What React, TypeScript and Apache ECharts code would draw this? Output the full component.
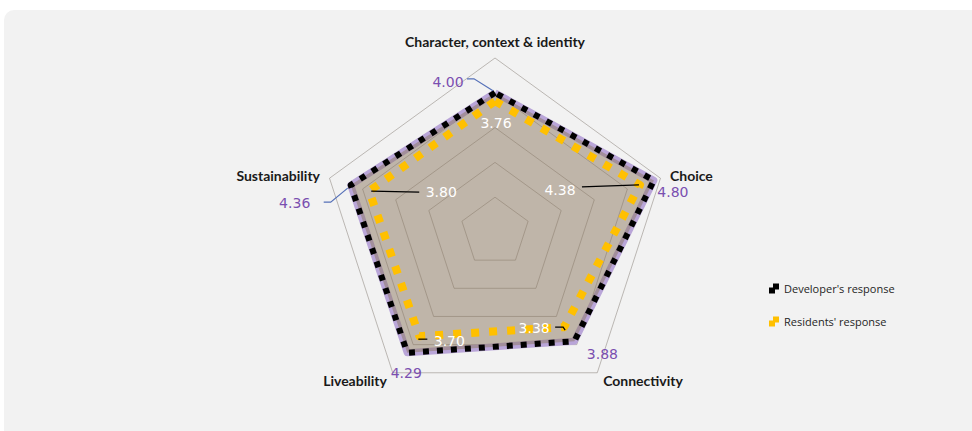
import React, { useEffect, useRef } from "react";
import * as echarts from "echarts";

// Axes, listed counter-clockwise from the top (ECharts radar order)
const indicatorNames = [
  "Character, context & identity",
  "Sustainability",
  "Liveability",
  "Connectivity",
  "Choice",
];
const developerScores = [4.0, 4.36, 4.29, 3.88, 4.8];
const residentScores = [3.76, 3.8, 3.7, 3.38, 4.38];
const seriesNames = ["Developer's response", "Residents' response"];
const scaleMax = 5;

// Radar geometry (pixels)
const CX = 495;
const CY = 232;
const RADIUS = 174;

// Where each value label sits, relative to its vertex, plus leader lines
const devLabelOffsets = [
  [-47, -11],
  [-56, 18],
  [-1, 20],
  [28, 13],
  [19, 12],
];
const devLeaders: (number[][] | null)[] = [
  [[-28, -14], [-21, -14], [-2, -2]],
  [[-27, 17], [-20, 17], [-3, 3]],
  null,
  null,
  null,
];
const resLabelOffsets = [
  [1, 22],
  [72, 1],
  [30, 5],
  [-30, 1],
  [-80, 5],
];
const resLeaders: (number[][] | null)[] = [
  null,
  [[2, 0], [50, 1]],
  [[-1, 3], [8, 3]],
  [[-9, 0], [-1, 0], [1, 3]],
  [[-58, 2], [-1, 0]],
];

function vertex(i: number, v: number): [number, number] {
  const a = ((90 + (i * 360) / indicatorNames.length) * Math.PI) / 180;
  const r = (RADIUS * v) / scaleMax;
  return [CX + r * Math.cos(a), CY - r * Math.sin(a)];
}

function valueLabels(
  values: number[],
  offsets: number[][],
  leaders: (number[][] | null)[],
  color: string,
  leaderColor: string
) {
  const out: any[] = [];
  values.forEach((v, i) => {
    const [x, y] = vertex(i, v);
    const lead = leaders[i];
    if (lead) {
      out.push({
        type: "polyline",
        z: 100,
        shape: { points: lead.map(([dx, dy]) => [x + dx, y + dy]) },
        style: { stroke: leaderColor, lineWidth: 1.2, fill: null },
      });
    }
    out.push({
      type: "text",
      z: 101,
      x: x + offsets[i][0],
      y: y + offsets[i][1],
      style: {
        text: v.toFixed(2),
        fill: color,
        font: "14px 'DejaVu Sans'",
        align: "center",
        verticalAlign: "middle",
      },
    });
  });
  return out;
}

export default function App() {
  const ref = useRef<HTMLDivElement>(null);

  useEffect(() => {
    if (!ref.current) return;
    const chart = echarts.init(ref.current, undefined, { renderer: "svg" });

    const legendIcon = "path://M0,4h6v6h-6z M4,0h6v6h-6z";

    const option: any = {
      animation: false,
      backgroundColor: "#ffffff",
      legend: {
        orient: "vertical",
        left: 764,
        top: 278,
        itemWidth: 10,
        itemHeight: 10,
        itemGap: 22,
        data: [
          { name: seriesNames[0], icon: legendIcon, itemStyle: { color: "#000000" } },
          { name: seriesNames[1], icon: legendIcon, itemStyle: { color: "#ffc000" } },
        ],
        textStyle: {
          fontFamily: "'Open Sans'",
          fontSize: 11,
          color: "#1f1f1f",
        },
      },
      radar: {
        center: [CX, CY],
        radius: RADIUS,
        startAngle: 90,
        splitNumber: 5,
        shape: "polygon",
        nameGap: 10,
        indicator: indicatorNames.map((name) => ({ name, min: 0, max: scaleMax })),
        axisName: {
          color: "#1a1a1a",
          fontFamily: "Lato",
          fontWeight: "bold",
          fontSize: 14,
        },
        axisLine: { show: false },
        splitArea: { show: false },
        splitLine: { lineStyle: { color: "rgba(110,100,90,0.42)", width: 1 } },
      },
      graphic: [
        {
          type: "rect",
          z: -10,
          shape: { x: 4, y: 10, width: 990, height: 440, r: 10 },
          style: { fill: "#f2f2f2" },
        },
        ...valueLabels(developerScores, devLabelOffsets, devLeaders, "#7a4fb0", "#5570b8"),
        ...valueLabels(residentScores, resLabelOffsets, resLeaders, "#ffffff", "#000000"),
      ],
      series: [
        {
          type: "radar",
          name: "developer-area",
          symbol: "none",
          z: 2,
          data: [{ value: developerScores }],
          lineStyle: { color: "#b9a5d8", width: 7 },
          areaStyle: { color: "rgba(140,120,95,0.5)", opacity: 1 },
          silent: true,
        },
        {
          type: "radar",
          name: seriesNames[1],
          symbol: "none",
          z: 3,
          data: [{ value: residentScores, name: seriesNames[1] }],
          itemStyle: { color: "#ffc000" },
          lineStyle: { color: "#ffc000", width: 8, type: [8, 10], cap: "butt" },
        },
        {
          type: "radar",
          name: seriesNames[0],
          symbol: "none",
          z: 4,
          data: [{ value: developerScores, name: seriesNames[0] }],
          itemStyle: { color: "#000000" },
          lineStyle: { color: "#000000", width: 6, type: [6, 8], cap: "butt" },
        },
      ],
    };

    chart.setOption(option);
    return () => chart.dispose();
  }, []);

  return (
    <div
      ref={ref}
      style={{ position: "fixed", left: 0, top: 0, width: 972, height: 431 }}
    />
  );
}
